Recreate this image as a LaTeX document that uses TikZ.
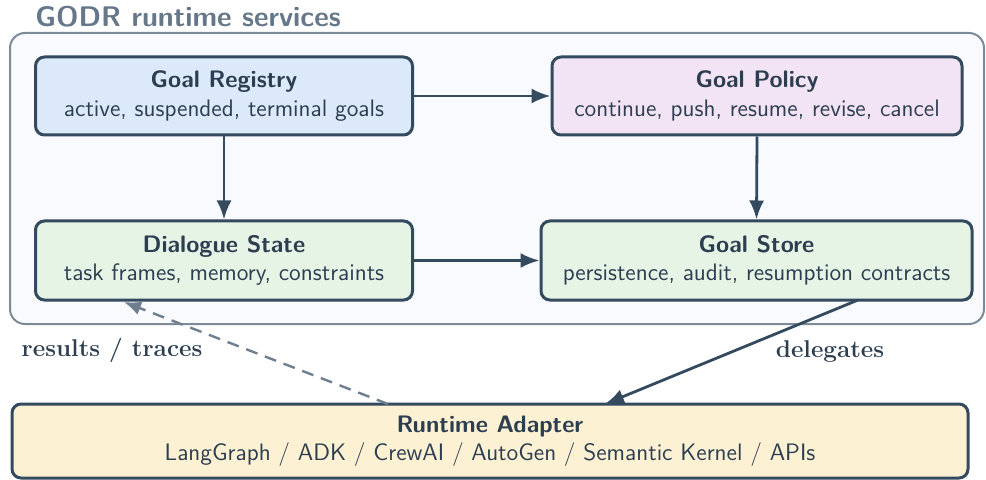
\documentclass[tikz,border=0pt]{standalone}
\usetikzlibrary{arrows.meta}
\definecolor{edge}{HTML}{344A5F}
\definecolor{txt}{HTML}{2C3E50}
\definecolor{regfill}{HTML}{DCE9FB}
\definecolor{polfill}{HTML}{F3E4F5}
\definecolor{grnfill}{HTML}{E6F4E6}
\definecolor{adfill}{HTML}{FDF1D4}
\definecolor{contfill}{HTML}{F8FAFD}
\definecolor{contedge}{HTML}{7D8B99}
\definecolor{titlecol}{HTML}{66778A}
\definecolor{dashcol}{HTML}{6F7F8F}
\def\u{0.4868pt}
\tikzset{
  box/.style={draw=edge, line width=3*\u, rounded corners=9*\u, text=txt,
    font=\sffamily\fontsize{11.6}{13.8}\selectfont, align=center, inner sep=0pt},
  arr/.style={draw=edge, line width=2.8*\u, -{Latex[length=19*\u, width=15*\u]}},
  darr/.style={draw=dashcol, line width=2.4*\u, dash pattern=on 12*\u off 8*\u,
    -{Latex[length=17*\u, width=14*\u]}},
  lab/.style={text=txt, font=\rmfamily\bfseries\fontsize{11.8}{14}\selectfont}
}
\begin{document}
\begin{tikzpicture}[x=0.4868pt, y=-0.4868pt]
\useasboundingbox (0,0) rectangle (986,480);
\node[anchor=west, inner sep=0pt, text=titlecol, font=\sffamily\bfseries\fontsize{13.8}{16}\selectfont] (title) at (35,17) {GODR runtime services};
\draw[draw=contedge, fill=contfill, line width=2*\u, rounded corners=15*\u] (10,33) rectangle (984,324);
\node[box, fill=regfill, minimum width=377*\u, minimum height=78*\u] (reg) at (224,96)
  {\textbf{Goal Registry}\\active, suspended, terminal goals};
\node[box, fill=polfill, minimum width=410*\u, minimum height=78*\u] (pol) at (757,96)
  {\textbf{Goal Policy}\\continue, push, resume, revise, cancel};
\node[box, fill=grnfill, minimum width=377*\u, minimum height=79*\u] (ds) at (224,260.5)
  {\textbf{Dialogue State}\\task frames, memory, constraints};
\node[box, fill=grnfill, minimum width=431*\u, minimum height=79*\u] (gs) at (756.5,260.5)
  {\textbf{Goal Store}\\persistence, audit, resumption contracts};
\node[box, fill=adfill, minimum width=956*\u, minimum height=74*\u] (ra) at (490,441)
  {\textbf{Runtime Adapter}\\LangGraph / ADK / CrewAI / AutoGen / Semantic Kernel / APIs};
\draw[arr] (reg.east) -- (pol.west);
\draw[arr] (reg.south) -- (ds.north);
\draw[arr] (pol.south) -- (gs.north);
\draw[arr] (ds.east) -- (gs.west);
\coordinate (gsout) at (858,300);
\coordinate (rain) at (605,404);
\draw[arr] (gsout) -- (rain);
\coordinate (raout) at (388,404);
\coordinate (dsin) at (124,302);
\draw[darr] (raout) -- (dsin);
\node[lab] (l1) at (112,350) {results / traces};
\node[lab] (l2) at (830,352) {delegates};
\end{tikzpicture}
\end{document}
